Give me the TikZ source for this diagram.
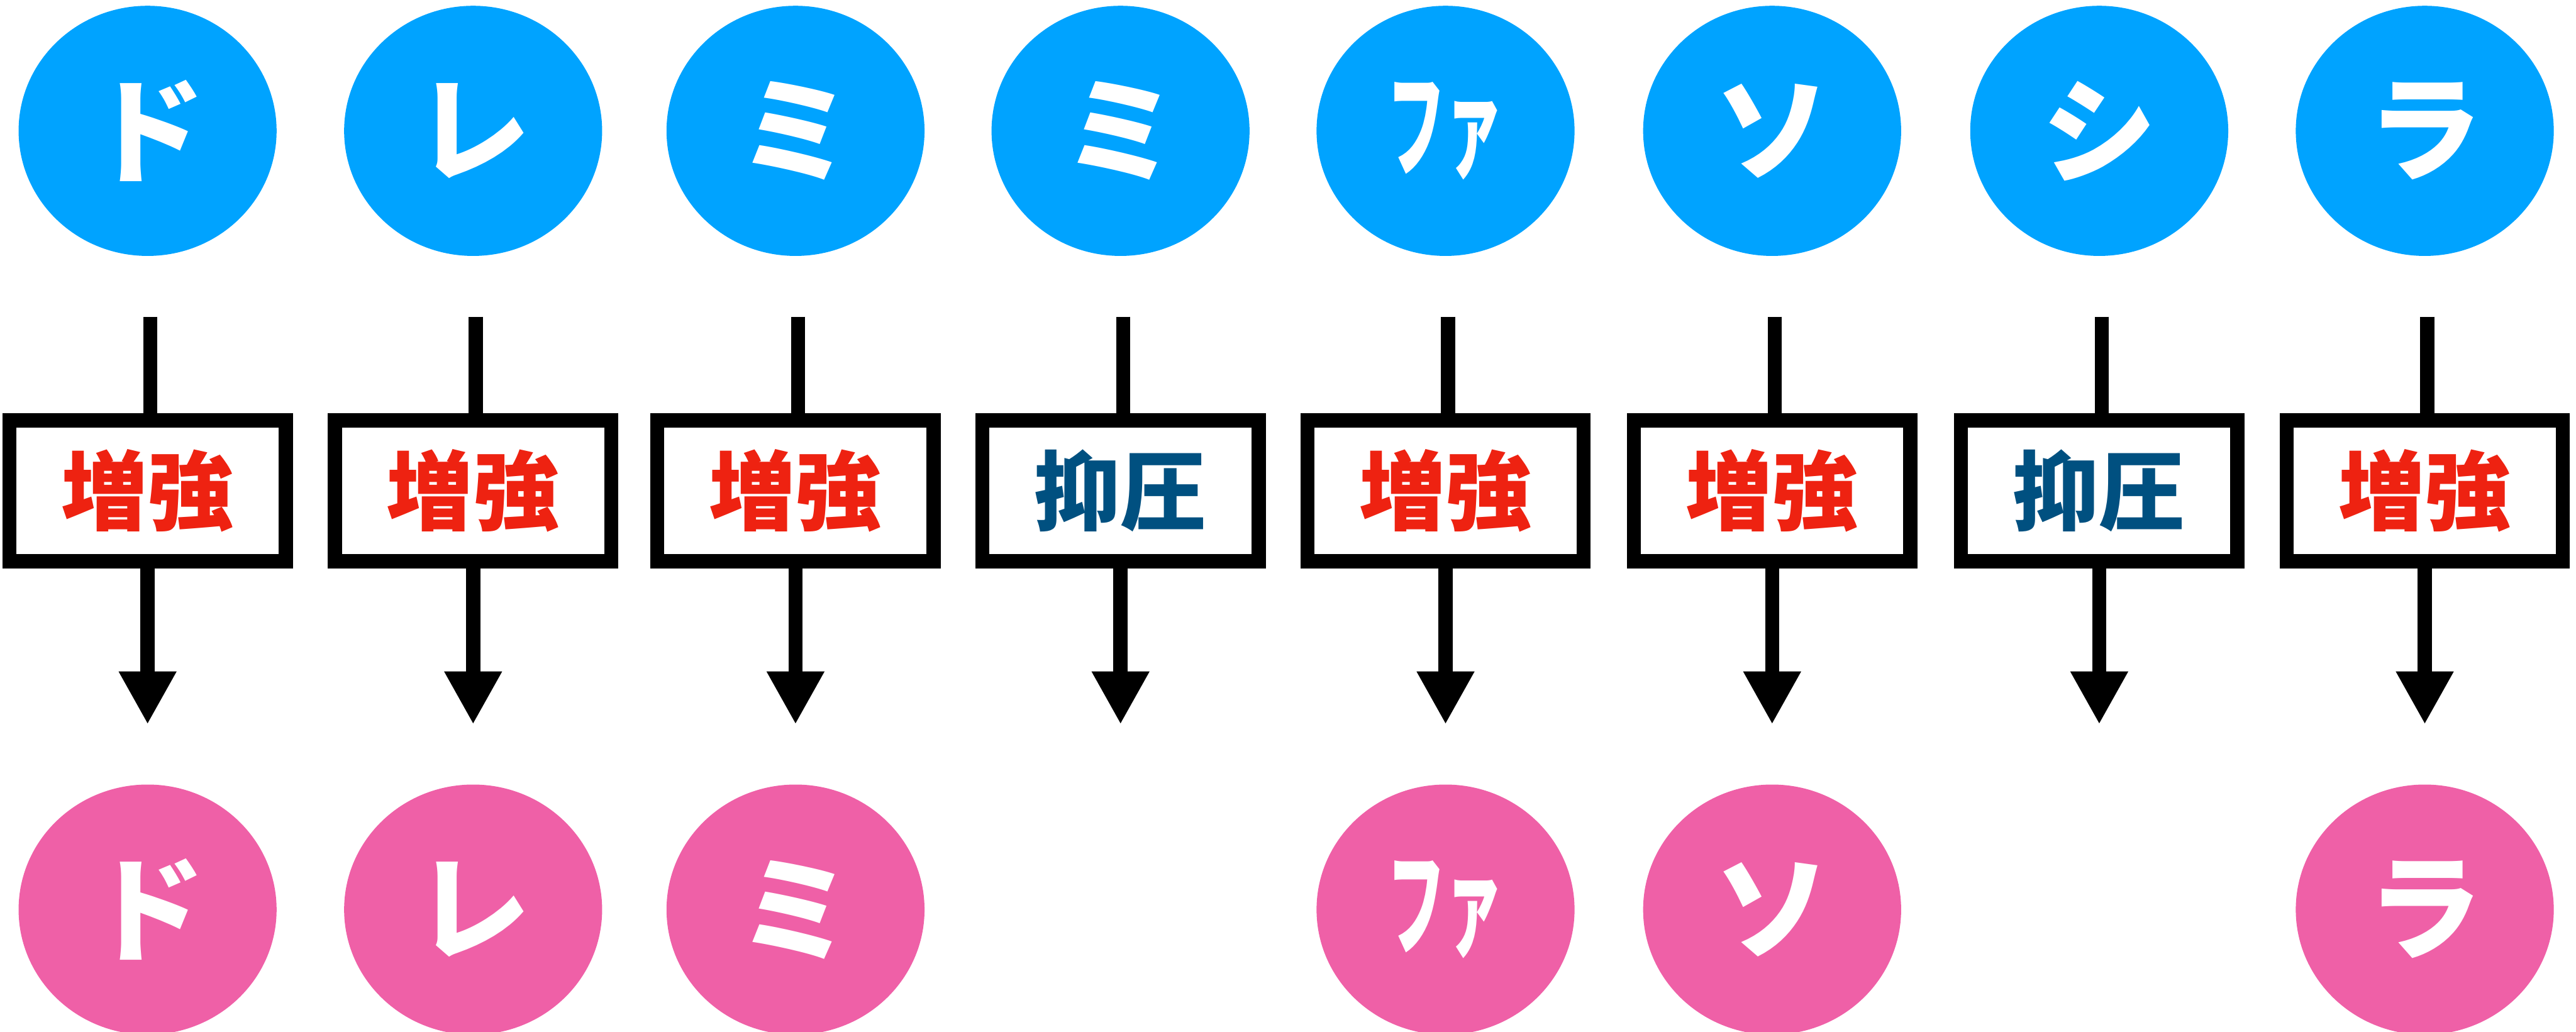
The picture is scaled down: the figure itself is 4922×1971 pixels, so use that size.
\documentclass[tikz,border=0pt]{standalone}
\usepackage{fontspec}
\usetikzlibrary{shapes.geometric,arrows.meta}
\newfontfamily\jp{Noto Sans CJK JP}
\definecolor{topblue}{HTML}{00A3FF}
\definecolor{botpink}{HTML}{EF60A7}
\definecolor{upred}{HTML}{EE2211}
\definecolor{downblue}{HTML}{005080}
\newcommand\zk{\textcolor{upred}{増強}}
\newcommand\yk{\textcolor{downblue}{抑圧}}
\newcommand\fa{\scalebox{0.5}[1]{ファ}}
\tikzset{
  note/.style={ellipse, minimum width=49.3pt, minimum height=47.8pt, inner sep=0pt,
    text=white, font=\jp\bfseries\fontsize{22}{22}\selectfont},
  topnote/.style={note, fill=topblue},
  botnote/.style={note, fill=botpink},
  gate/.style={draw=black, line width=2.7pt, fill=white, minimum width=52.8pt,
    minimum height=26.9pt, inner sep=0pt, font=\jp\bfseries\fontsize{16.5}{16.5}\selectfont},
  conn/.style={draw=black, line width=2.7pt},
  arr/.style={conn, -{Triangle[length=10.1pt,width=10.3pt]}}
}
\begin{document}
\begin{tikzpicture}[x=0.1pt,y=-0.1pt]
\useasboundingbox (0,0) rectangle (4922,1971);
\clip (0,0) rectangle (4922,1971);
\coordinate (botrow) at (0,1738);
\foreach \i/\x/\t/\k in {1/282/ド/\zk, 2/904/レ/\zk, 3/1520/ミ/\zk, 4/2141/ミ/\yk,
    5/2762/\fa/\zk, 6/3386/ソ/\zk, 7/4011/シ/\yk, 8/4633/ラ/\zk}{
  \node[topnote] (t\i) at (\x,250) {\t};
  \node[gate] (b\i) at (\x,938) {\k};
  \coordinate (s\i) at (\x+5,605);
  \coordinate (e\i) at (\x,1384);
  \draw[conn] (s\i) -- (s\i |- b\i.north);
  \draw[arr] (b\i.south) -- (e\i);
}
\foreach \i/\b in {1/ド, 2/レ, 3/ミ, 5/\fa, 6/ソ, 8/ラ}{
  \node[botnote] (u\i) at (b\i |- botrow) {\b};
}
\end{tikzpicture}
\end{document}
